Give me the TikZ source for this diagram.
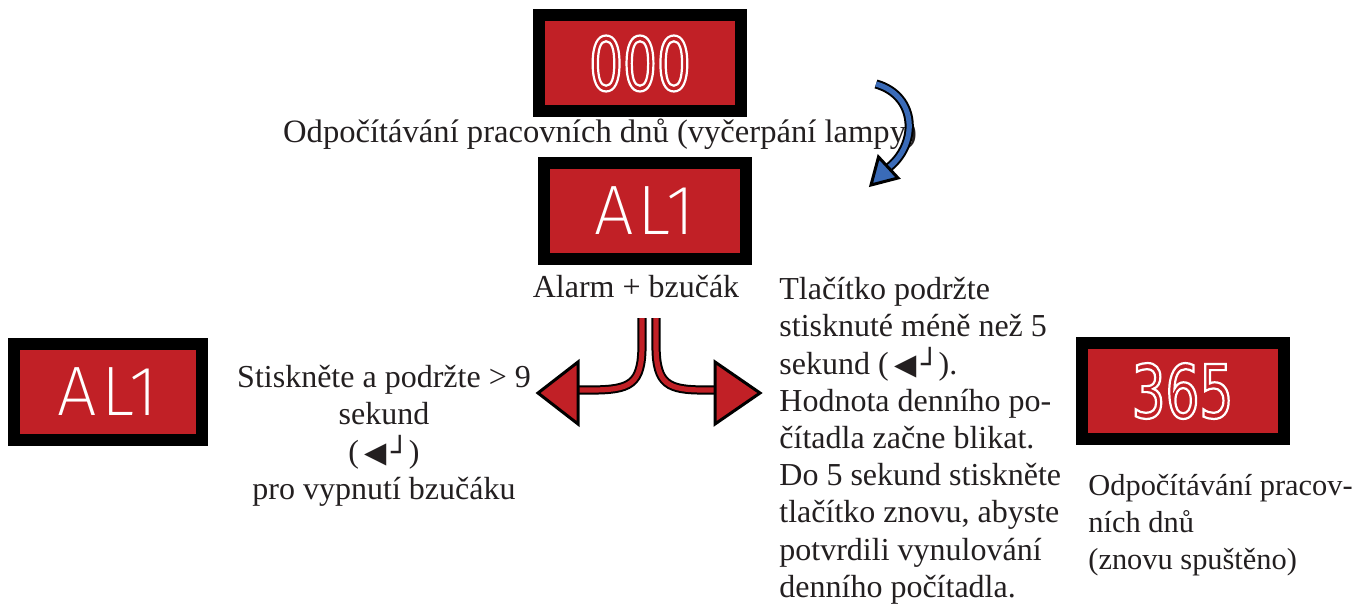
\documentclass[tikz,border=0pt]{standalone}
\usepackage{fontspec}
\setmainfont{Liberation Serif}
\newfontfamily\lcdfont{Fira Sans ExtraLight}[LetterSpace=6]
\newfontfamily\segfont{DejaVu Sans}[FakeStretch=0.72]
\newfontfamily\symfont{DejaVu Sans}
\usetikzlibrary{positioning}
\definecolor{lcdred}{RGB}{193,32,38}
\definecolor{arrowblue}{RGB}{58,107,184}
\definecolor{inkgray}{RGB}{35,31,32}
\newcommand{\outlined}[1]{\special{pdf:literal direct 1 Tr 1.1 w}#1\special{pdf:literal direct 0 Tr}}
\newcommand{\enterkey}{{\symfont\fontsize{14.5}{14.5}\selectfont ◀\,┘}}
\begin{document}
\begin{tikzpicture}
[x=0.5pt,y=-0.5pt,%
  display/.style={draw=black,line width=6pt,fill=lcdred,minimum width=101pt,minimum height=48pt,inner sep=0pt,text=white,font=\lcdfont\fontsize{35}{35}\selectfont},%
  caption/.style={inner sep=0pt,text=inkgray,font=\fontsize{16}{18.6}\selectfont},%
  splitarrow/.style={double=lcdred,double distance=2.6pt,line width=1pt},%
  turnarrow/.style={double=arrowblue,double distance=2.6pt,line width=1pt},%
  arrowhead/.style={draw=black,line width=1.5pt,line join=miter}]
\useasboundingbox (0,0) rectangle (1368,609);
% displays
\node[display] (count) at (640,63.5) {\segfont\fontsize{37}{37}\selectfont\outlined{000}};
\node[display] (alarm) at (644.5,211) {AL1};
\node[display,minimum width=94pt] (mute) at (108,391.5) {AL1};
\node[display] (restart) at (1182.5,391) {\segfont\fontsize{37}{37}\selectfont\outlined{365}};
% texts
\node[caption,anchor=base,font=\fontsize{16.3}{18.6}\selectfont] (countlabel) at (600,143) {Odpočítávání pracovních dnů (vyčerpání lampy)};
\node[caption,anchor=base] (alarmlabel) at (636,297) {Alarm + bzučák};
\node[caption,anchor=north,align=center] (mutelabel) at (384,365)
  {Stiskněte a podržte > 9\\sekund\\(\,\enterkey)\\pro vypnutí bzučáku};
\node[caption,anchor=north west,align=left] (resetlabel) at (779,277)
  {Tlačítko podržte\\stisknuté méně než 5\\sekund (\,\enterkey).\\Hodnota denního po-\\čítadla začne blikat.\\Do 5 sekund stiskněte\\tlačítko znovu, abyste\\potvrdili vynulování\\denního počítadla.};
\node[caption,anchor=north west,align=left,font=\fontsize{15.2}{18.6}\selectfont] (restartlabel) at (1088,474)
  {Odpočítávání pracov-\\ních dnů\\(znovu spuštěno)};
% arrows
\coordinate (turnstart) at (876,84);
\coordinate (turnend) at (888,168);
\coordinate (turntip) at (871,185);
\draw[turnarrow] (turnstart) .. controls (918,96) and (918,145) .. (turnend);
\filldraw[arrowhead,fill=arrowblue] (turntip) -- (878.5,157) -- (898,178) -- cycle;
\coordinate (stemL) at (642,318);
\coordinate (stemR) at (656,318);
\coordinate (baseL) at (578,390);
\coordinate (baseR) at (715,390);
\draw[splitarrow] (stemL) -- (642,345) .. controls (642,385) and (630,390) .. (590,390) -- (baseL);
\draw[splitarrow] (stemR) -- (656,345) .. controls (656,385) and (668,390) .. (705,390) -- (baseR);
\filldraw[arrowhead,fill=lcdred] (baseL) ++(0,-28) -- (538,393) -- (578,424) -- cycle;
\filldraw[arrowhead,fill=lcdred] (baseR) ++(0,-28) -- (760,393) -- (715,424) -- cycle;
\end{tikzpicture}
\end{document}
